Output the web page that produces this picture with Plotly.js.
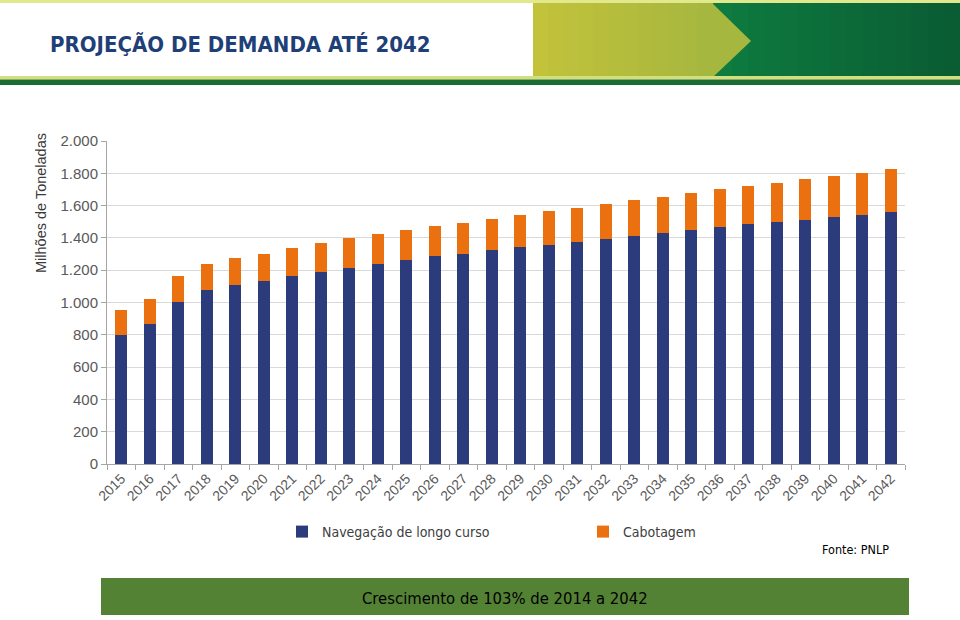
<!DOCTYPE html>
<html>
<head>
<meta charset="utf-8">
<script src="https://cdn.plot.ly/plotly-3.0.1.min.js"></script>
<style>
  html, body { margin: 0; padding: 0; background: #ffffff; }
  #chart { width: 960px; height: 620px; }
</style>
</head>
<body>
<div id="chart"></div>
<script>
// ---- Data ----
const years = ['2015','2016','2017','2018','2019','2020','2021','2022','2023','2024','2025','2026','2027','2028',
               '2029','2030','2031','2032','2033','2034','2035','2036','2037','2038','2039','2040','2041','2042'];
const longoCurso = [800, 867, 1003, 1077, 1108, 1133, 1164, 1189, 1213, 1238, 1263, 1288, 1300, 1325,
                    1343, 1356, 1374, 1393, 1411, 1430, 1449, 1467, 1486, 1498, 1510, 1529, 1541, 1560];
const cabotagem = [153, 154, 161, 161, 167, 167, 173, 179, 186, 186, 186, 185, 192, 192,
                   198, 210, 211, 216, 223, 223, 229, 235, 235, 241, 254, 254, 260, 266];
const seriesNames = ['Navegação de longo curso', 'Cabotagem'];
const yTicks = [0, 200, 400, 600, 800, 1000, 1200, 1400, 1600, 1800, 2000];

// ---- Layout helpers (pixel -> paper) ----
const W = 960, H = 620;
const mL = 107, mR = 55, mT = 141, mB = 156;
const pw = W - mL - mR, ph = H - mT - mB;
const px = x => (x - mL) / pw;
const py = y => (H - mB - y) / ph;

const CALIBRI = 'Liberation Sans Narrow, DejaVu Sans Condensed, Open Sans, sans-serif';
const ARIAL = 'Liberation Sans, Arial, sans-serif';

function rect(x0, y0, x1, y1, color) {
  return { type: 'rect', xref: 'paper', yref: 'paper', layer: 'below',
           x0: px(x0), x1: px(x1), y0: py(y1), y1: py(y0),
           fillcolor: color, line: { width: 0 } };
}
function lerpColor(a, b, t) {
  const pa = a.match(/\w\w/g).map(h => parseInt(h, 16));
  const pb = b.match(/\w\w/g).map(h => parseInt(h, 16));
  return 'rgb(' + pa.map((v, i) => Math.round(v + (pb[i] - v) * t)).join(',') + ')';
}

const shapes = [];
// green area (gradient strips)
const gN = 16;
for (let i = 0; i < gN; i++) {
  const x0 = 700 + (960 - 700) * i / gN, x1 = 700 + (960 - 700) * (i + 1) / gN + 2;
  shapes.push(rect(x0, 3, Math.min(x1, 960), 78, lerpColor('0e7d40', '0a5c33', i / (gN - 1))));
}
// yellow-green area (gradient strips)
const yN = 12;
for (let i = 0; i < yN; i++) {
  const x0 = 533 + (713 - 533) * i / yN, x1 = 533 + (713 - 533) * (i + 1) / yN + 2;
  shapes.push(rect(x0, 3, Math.min(x1, 713), 78, lerpColor('c2c23b', 'a6b73f', i / (yN - 1))));
}
// chevron tip
shapes.push({ type: 'path', xref: 'paper', yref: 'paper', layer: 'below',
  path: 'M ' + px(712) + ' ' + py(3) + ' L ' + px(751) + ' ' + py(41) + ' L ' + px(712) + ' ' + py(78) + ' Z',
  fillcolor: '#a6b73f', line: { width: 0 } });
// top stripe
shapes.push(rect(0, 0, 960, 3, '#e2e98c'));
// bottom stripes of header
shapes.push(rect(0, 76, 960, 79.5, '#d3e07a'));
shapes.push(rect(0, 79.5, 960, 85, '#1c6b33'));
// bottom banner
shapes.push(rect(101, 578, 909, 615, '#548235'));

const traceLongo = {
  type: 'bar', name: seriesNames[0], x: years, y: longoCurso,
  marker: { color: '#2b3b7c', line: { width: 0 } },
  hoverinfo: 'x+y+name'
};
const traceCab = {
  type: 'bar', name: seriesNames[1], x: years, y: cabotagem,
  marker: { color: '#ea7010', line: { width: 0 } },
  hoverinfo: 'x+y+name'
};

const layout = {
  width: W, height: H,
  margin: { l: mL, r: mR, t: mT, b: mB, pad: 0 },
  paper_bgcolor: '#ffffff', plot_bgcolor: 'rgba(0,0,0,0)',
  barmode: 'stack', bargap: 0.57,
  separators: ',.',
  font: { family: ARIAL, color: '#595959' },
  xaxis: {
    type: 'category', tickangle: -45, tickson: 'boundaries',
    ticks: 'outside', ticklen: 5, tickcolor: '#a6a6a6',
    showline: true, linecolor: '#a6a6a6', linewidth: 1,
    showgrid: false, tickfont: { size: 14, color: '#595959' }
  },
  yaxis: {
    range: [0, 2000], tickvals: yTicks, tickformat: ',d', separatethousands: true,
    ticks: 'outside', ticklen: 5, tickcolor: '#a6a6a6',
    showline: true, linecolor: '#a6a6a6', linewidth: 1,
    gridcolor: '#d9d9d9', gridwidth: 1, zeroline: false,
    tickfont: { size: 15, color: '#595959' }
  },
  showlegend: true,
  legend: {
    orientation: 'h', x: px(282), xanchor: 'left', y: py(532), yanchor: 'middle',
    font: { family: CALIBRI, size: 14, color: '#404040' },
    entrywidth: 256, entrywidthmode: 'pixels', traceorder: 'normal',
    itemsizing: 'constant', bgcolor: 'rgba(0,0,0,0)'
  },
  shapes: shapes,
  annotations: [
    { xref: 'paper', yref: 'paper', x: px(48), y: py(45), xanchor: 'left', yanchor: 'middle',
      text: '<b>PROJEÇÃO DE DEMANDA ATÉ 2042</b>', showarrow: false,
      font: { family: CALIBRI, size: 22, color: '#1f3f78' } },
    { xref: 'paper', yref: 'paper', x: px(41), y: py(203), xanchor: 'center', yanchor: 'middle',
      text: 'Milhões de Toneladas', textangle: -90, showarrow: false,
      font: { family: ARIAL, size: 14.5, color: '#3a3a3a' } },
    { xref: 'paper', yref: 'paper', x: px(891), y: py(549), xanchor: 'right', yanchor: 'middle',
      text: 'Fonte: PNLP', showarrow: false,
      font: { family: CALIBRI, size: 12.5, color: '#000000' } },
    { xref: 'paper', yref: 'paper', x: px(505), y: py(598), xanchor: 'center', yanchor: 'middle',
      text: 'Crescimento de 103% de 2014 a 2042', showarrow: false,
      font: { family: CALIBRI, size: 16.5, color: '#000000' } }
  ]
};

Plotly.newPlot('chart', [traceLongo, traceCab], layout, { displayModeBar: false, staticPlot: true });
</script>
</body>
</html>
